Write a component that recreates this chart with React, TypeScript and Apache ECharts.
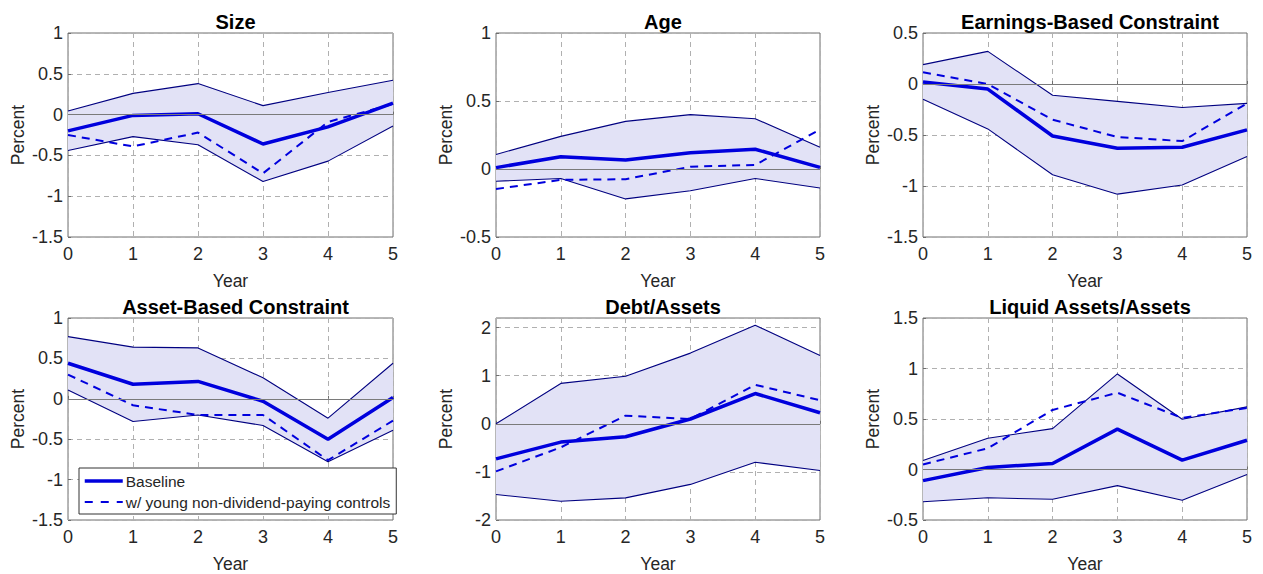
import { useEffect, useRef } from "react"
import * as echarts from "echarts"

const years = ["0", "1", "2", "3", "4", "5"]

const titles = [
  "Size",
  "Age",
  "Earnings-Based Constraint",
  "Asset-Based Constraint",
  "Debt/Assets",
  "Liquid Assets/Assets",
]

// y-axis limits per panel [min, max, step]
const yLimits = [
  [-1.5, 1, 0.5],
  [-0.5, 1, 0.5],
  [-1.5, 0.5, 0.5],
  [-1.5, 1, 0.5],
  [-2, 2.2, 1],
  [-0.5, 1.5, 0.5],
]

// Size
const sizeUpper = [0.045, 0.26, 0.38, 0.11, 0.27, 0.42]
const sizeLower = [-0.44, -0.27, -0.37, -0.82, -0.57, -0.14]
const sizeBase = [-0.2, -0.01, 0.01, -0.36, -0.15, 0.14]
const sizeYoung = [-0.25, -0.39, -0.22, -0.72, -0.09, 0.13]

// Age
const ageUpper = [0.107, 0.24, 0.35, 0.4, 0.37, 0.16]
const ageLower = [-0.09, -0.07, -0.22, -0.16, -0.07, -0.14]
const ageBase = [0.01, 0.09, 0.066, 0.12, 0.145, 0.012]
const ageYoung = [-0.147, -0.08, -0.075, 0.017, 0.03, 0.29]

// Earnings-Based Constraint
const earnUpper = [0.19, 0.32, -0.11, -0.17, -0.23, -0.19]
const earnLower = [-0.15, -0.44, -0.89, -1.08, -0.99, -0.71]
const earnBase = [0.02, -0.05, -0.51, -0.63, -0.62, -0.45]
const earnYoung = [0.115, 0.0, -0.35, -0.52, -0.56, -0.19]

// Asset-Based Constraint
const assetUpper = [0.77, 0.64, 0.63, 0.26, -0.24, 0.44]
const assetLower = [0.11, -0.28, -0.2, -0.33, -0.78, -0.39]
const assetBase = [0.44, 0.18, 0.215, -0.03, -0.5, 0.015]
const assetYoung = [0.3, -0.08, -0.2, -0.2, -0.76, -0.27]

// Debt/Assets
const debtUpper = [0.0, 0.84, 0.99, 1.47, 2.05, 1.42]
const debtLower = [-1.47, -1.61, -1.54, -1.26, -0.8, -0.97]
const debtBase = [-0.73, -0.38, -0.27, 0.1, 0.63, 0.23]
const debtYoung = [-0.99, -0.49, 0.17, 0.1, 0.81, 0.49]

// Liquid Assets/Assets
const liqUpper = [0.09, 0.31, 0.405, 0.946, 0.497, 0.62]
const liqLower = [-0.32, -0.28, -0.295, -0.16, -0.305, -0.05]
const liqBase = [-0.11, 0.02, 0.06, 0.4, 0.093, 0.29]
const liqYoung = [0.05, 0.21, 0.59, 0.76, 0.51, 0.61]

const uppers = [sizeUpper, ageUpper, earnUpper, assetUpper, debtUpper, liqUpper]
const lowers = [sizeLower, ageLower, earnLower, assetLower, debtLower, liqLower]
const baselines = [sizeBase, ageBase, earnBase, assetBase, debtBase, liqBase]
const youngs = [sizeYoung, ageYoung, earnYoung, assetYoung, debtYoung, liqYoung]

const BASE_NAME = "Baseline"
const YOUNG_NAME = "w/ young non-dividend-paying controls"

const FONT = "'Liberation Sans', Arial, sans-serif"
const BLUE = "#0000dd"
const NAVY = "#000080"
const FILL = "#e2e2f6"
const TEXT = "#262626"

const colLefts = [68, 496, 923]
const colWidths = [325, 324, 324]
const rowTops = [33, 318]
const plotH = 204

export default function App() {
  const chartRef = useRef<HTMLDivElement>(null)

  useEffect(() => {
    if (!chartRef.current) return
    const chart = echarts.init(chartRef.current, null, { renderer: "svg" })

    const grids: any[] = []
    const xAxes: any[] = []
    const yAxes: any[] = []
    const titleList: any[] = []
    const series: any[] = []

    titles.forEach((t, i) => {
      const col = i % 3
      const row = Math.floor(i / 3)
      const left = colLefts[col]
      const width = colWidths[col]
      const top = rowTops[row]
      const [ymin, ymax, step] = yLimits[i]

      grids.push({
        left,
        top,
        width,
        height: plotH,
        show: true,
        borderColor: "#6e6e6e",
        borderWidth: 1,
        backgroundColor: "transparent",
      })

      titleList.push({
        text: t,
        left: left + width / 2,
        top: top - 26,
        textAlign: "center",
        textStyle: { fontFamily: FONT, fontSize: 20, fontWeight: "bold", color: "#000" },
      })

      xAxes.push({
        type: "category",
        gridIndex: i,
        data: years,
        boundaryGap: false,
        name: "Year",
        nameLocation: "middle",
        nameGap: 35,
        nameTextStyle: { fontFamily: FONT, fontSize: 17.5, color: TEXT },
        axisLine: { show: false },
        axisTick: { show: true, inside: true, length: 3, lineStyle: { color: "#6e6e6e" } },
        axisLabel: { interval: 0, margin: 8, fontFamily: FONT, fontSize: 18, color: TEXT },
        splitLine: { show: true, lineStyle: { color: "#b0b0b0", type: [5, 4] } },
      })

      yAxes.push({
        type: "value",
        gridIndex: i,
        min: ymin,
        max: ymax,
        interval: step,
        name: "Percent",
        nameLocation: "middle",
        nameGap: 41,
        nameTextStyle: { fontFamily: FONT, fontSize: 17.5, color: TEXT },
        axisLine: { show: false },
        axisTick: { show: true, inside: true, length: 3, lineStyle: { color: "#6e6e6e" } },
        axisLabel: {
          margin: 5,
          fontFamily: FONT,
          fontSize: 18,
          color: TEXT,
          showMaxLabel: ymax % step === 0 ? true : false,
        },
        splitLine: { show: true, lineStyle: { color: "#b0b0b0", type: [5, 4] } },
      })

      const upper = uppers[i]
      const lower = lowers[i]
      const diff = upper.map((u, k) => u - lower[k])

      // invisible base of the stacked band
      series.push({
        type: "line",
        xAxisIndex: i,
        yAxisIndex: i,
        stack: "band" + i,
        stackStrategy: "all",
        data: lower,
        symbol: "none",
        lineStyle: { opacity: 0 },
        silent: true,
        z: 1,
      })
      // band fill (upper - lower) + zero line
      series.push({
        type: "line",
        xAxisIndex: i,
        yAxisIndex: i,
        stack: "band" + i,
        stackStrategy: "all",
        data: diff,
        symbol: "none",
        lineStyle: { opacity: 0 },
        areaStyle: { color: FILL, opacity: 1 },
        silent: true,
        z: 1,
        markLine: {
          silent: true,
          symbol: "none",
          label: { show: false },
          lineStyle: { color: "#7a7a7a", width: 1, type: "solid" },
          data: [{ yAxis: 0 }],
        },
      })
      series.push({
        type: "line",
        xAxisIndex: i,
        yAxisIndex: i,
        data: upper,
        symbol: "none",
        lineStyle: { color: NAVY, width: 1.1 },
        silent: true,
        z: 3,
      })
      series.push({
        type: "line",
        xAxisIndex: i,
        yAxisIndex: i,
        data: lower,
        symbol: "none",
        lineStyle: { color: NAVY, width: 1.1 },
        silent: true,
        z: 3,
      })
      series.push({
        name: BASE_NAME,
        type: "line",
        xAxisIndex: i,
        yAxisIndex: i,
        data: baselines[i],
        symbol: "none",
        itemStyle: { color: BLUE },
        lineStyle: { color: BLUE, width: 3.5 },
        z: 4,
      })
      series.push({
        name: YOUNG_NAME,
        type: "line",
        xAxisIndex: i,
        yAxisIndex: i,
        data: youngs[i],
        symbol: "none",
        itemStyle: { color: BLUE },
        lineStyle: { color: BLUE, width: 2, type: [8, 6] },
        z: 4,
      })
    })

    const option: any = {
      animation: false,
      backgroundColor: "#fff",
      title: titleList,
      grid: grids,
      xAxis: xAxes,
      yAxis: yAxes,
      legend: {
        data: [
          { name: BASE_NAME, lineStyle: { color: BLUE, width: 3.5, type: "solid" } },
          { name: YOUNG_NAME, lineStyle: { color: BLUE, width: 2, type: [8, 8] } },
        ],
        orient: "vertical",
        left: 79,
        top: 468,
        padding: [5, 6, 4, 4],
        itemGap: 5,
        itemWidth: 38,
        itemHeight: 14,
        itemStyle: { opacity: 0 },
        backgroundColor: "#fff",
        borderColor: "#333",
        borderWidth: 1,
        borderRadius: 0,
        textStyle: { fontFamily: FONT, fontSize: 15.5, color: TEXT, padding: [0, 0, 0, -2] },
        z: 10,
      },
      series,
    }

    chart.setOption(option)

    return () => {
      chart.dispose()
    }
  }, [])

  return (
    <div
      ref={chartRef}
      style={{ position: "fixed", left: 0, top: 0, width: "1263px", height: "574px" }}
    />
  )
}
